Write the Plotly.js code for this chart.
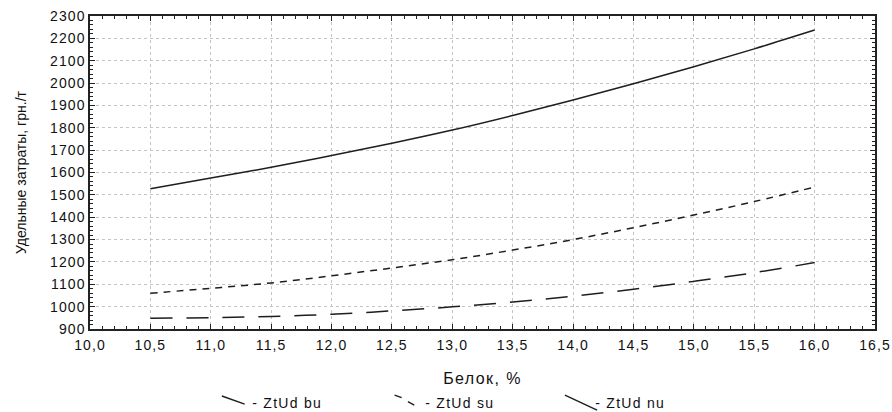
<!DOCTYPE html>
<html>
<head>
<meta charset="utf-8">
<script src="https://cdn.plot.ly/plotly-3.0.1.min.js"></script>
<style>
html,body{margin:0;padding:0;background:#fff;}
#chart{width:892px;height:412px;}
#chart .xtick text, #chart .ytick text{letter-spacing:1.1px;}
#chart .g-xtitle text{letter-spacing:1.4px;}
#chart .annotation-text{letter-spacing:1.3px;}
</style>
</head>
<body>
<div id="chart"></div>
<script>
const protein = [10.5, 11.0, 11.5, 12.0, 12.5, 13.0, 13.5, 14.0, 14.5, 15.0, 15.5, 16.0];
const ztud_bu = [948, 951, 956, 966, 981, 999, 1021, 1047, 1078, 1113, 1152, 1197];
const ztud_su = [1060, 1082, 1106, 1138, 1173, 1210, 1253, 1300, 1353, 1410, 1470, 1535];
const ztud_nu = [1527, 1575, 1623, 1676, 1731, 1790, 1855, 1924, 1997, 2073, 2153, 2237];
const seriesNames = ['- ZtUd bu', '- ZtUd su', '- ZtUd nu'];
const xTicks = [10.0, 10.5, 11.0, 11.5, 12.0, 12.5, 13.0, 13.5, 14.0, 14.5, 15.0, 15.5, 16.0, 16.5];
const xTickText = xTicks.map(v => v.toFixed(1).replace('.', ','));

const lineColor = '#1e1e1e';
const traces = [
  {x: protein, y: ztud_bu, name: seriesNames[0], mode: 'lines', line: {color: lineColor, width: 1.5, dash: '22px,14px', shape: 'spline'}},
  {x: protein, y: ztud_su, name: seriesNames[1], mode: 'lines', line: {color: lineColor, width: 1.5, dash: '7px,6px', shape: 'spline'}},
  {x: protein, y: ztud_nu, name: seriesNames[2], mode: 'lines', line: {color: lineColor, width: 1.5, shape: 'spline'}}
];

// custom legend (slanted sample strokes like the original)
const legendKeyStyle = {type: 'line', xref: 'paper', yref: 'paper', line: {color: lineColor, width: 1.4}};
const shapes = [
  Object.assign({x0: 0.168, y0: -0.214, x1: 0.197, y1: -0.240}, legendKeyStyle),
  Object.assign({x0: 0.388, y0: -0.211, x1: 0.397, y1: -0.219}, legendKeyStyle),
  Object.assign({x0: 0.405, y0: -0.232, x1: 0.413, y1: -0.243}, legendKeyStyle),
  Object.assign({x0: 0.605, y0: -0.211, x1: 0.646, y1: -0.259}, legendKeyStyle)
];
const legendX = [0.212, 0.432, 0.649];
const annotations = seriesNames.map((n, i) => ({
  text: n, xref: 'paper', yref: 'paper', x: legendX[i], y: -0.236,
  xanchor: 'left', yanchor: 'middle', showarrow: false,
  font: {size: 14, color: '#111'}
}));

const layout = {
  width: 892, height: 412,
  margin: {l: 90, r: 17, t: 16, b: 83},
  paper_bgcolor: '#fff', plot_bgcolor: '#fff',
  font: {family: 'Liberation Sans, Arial, sans-serif', size: 14, color: '#111'},
  showlegend: false,
  shapes: shapes,
  annotations: annotations,
  xaxis: {
    range: [10.0, 16.5], tickvals: xTicks, ticktext: xTickText,
    showline: true, linecolor: '#222', linewidth: 1.6, mirror: 'allticks',
    ticks: 'inside', ticklen: 5, tickcolor: '#222', ticklabelstandoff: 3,
    showgrid: true, gridcolor: '#c4c4c4', griddash: 'dot', gridwidth: 1,
    zeroline: false, automargin: false,
    minor: {dtick: 0.1, ticks: 'inside', ticklen: 3, tickcolor: '#222', showgrid: false},
    title: {text: 'Белок, %', font: {size: 16}, standoff: 20}
  },
  yaxis: {
    range: [900, 2300], dtick: 100,
    showline: true, linecolor: '#222', linewidth: 1.6, mirror: 'allticks',
    ticks: 'inside', ticklen: 5, tickcolor: '#222',
    showgrid: true, gridcolor: '#c4c4c4', griddash: 'dot', gridwidth: 1,
    zeroline: false, automargin: false,
    minor: {dtick: 20, ticks: 'inside', ticklen: 3, tickcolor: '#222', showgrid: false},
    title: {text: 'Удельные затраты, грн./т', font: {size: 14}, standoff: 24}
  }
};

Plotly.newPlot('chart', traces, layout, {displayModeBar: false, staticPlot: true});
</script>
</body>
</html>
